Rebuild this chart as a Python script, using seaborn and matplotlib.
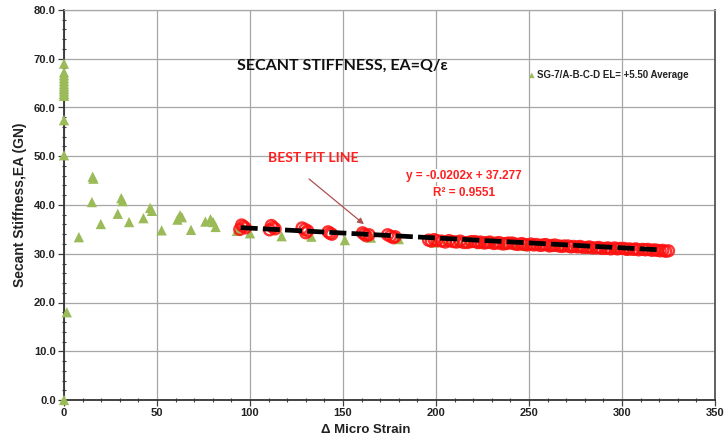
import matplotlib
matplotlib.use("Agg")
import matplotlib.pyplot as plt
import seaborn as sns
import pandas as pd
from matplotlib.ticker import MultipleLocator, FormatStrFormatter

# Average gauge readings (SG-7 A-B-C-D, EL +5.50)
tri_strain = [0, 0, 0, 0, 0, 0, 0, 0, 0, 0, 0, 0, 0, 0, 1.5,
              8, 15, 15.4, 15.8, 19.8, 28.9, 30.8, 31.5, 35, 42.7, 46.3, 47.3,
              52.5, 61, 62.4, 63.4, 68.3, 76, 78.8, 80.2, 81.5, 93,
              100, 117, 133, 151, 165, 180, 199, 206, 212, 218, 224, 230, 236,
              242, 248, 255, 262, 269, 276, 283, 290, 297, 304, 310, 316, 321]
tri_stiff = [69.0, 67.2, 66.6, 66.0, 65.4, 64.8, 64.3, 63.8, 63.3, 62.8, 62.4, 57.4, 50.2, 0.0, 18.0,
             33.4, 40.6, 45.8, 45.4, 36.1, 38.2, 41.4, 40.8, 36.5, 37.3, 39.4, 38.8,
             34.8, 37.0, 37.9, 37.5, 34.9, 36.6, 37.1, 36.5, 35.5, 34.7,
             34.2, 33.6, 33.5, 32.8, 33.3, 33.0, 32.3, 32.5, 32.2, 32.3, 32.0, 32.1, 31.8,
             31.9, 31.6, 31.7, 31.4, 31.5, 31.2, 31.3, 30.9, 31.1, 30.7, 30.9, 30.6, 30.6]

# Readings used for the secant stiffness fit
fit_strain = [94.5, 95.5, 96.5, 97.5, 110.5, 111.5, 112.5, 113.5, 128, 129.5, 130, 131,
              142, 143, 144, 160.5, 161.5, 162.5, 164, 174, 175.5, 177, 178,
              196, 197.5, 199, 200.5, 203, 205, 207, 209, 211, 213, 215, 217, 219,
              221, 222.5, 224, 226, 227.5, 229, 231, 232.5, 234, 236, 237.5, 239,
              241, 242.5, 244, 246, 247.5, 249, 251, 252.5, 254, 256, 257.5, 259,
              261, 262.5, 264, 266, 267.5, 269, 271, 272.5, 274, 276, 277.5, 279,
              281, 282.5, 284, 286, 287.5, 289, 291, 292.5, 294, 296, 297.5, 299,
              301, 302.5, 304, 306, 307.5, 309, 311, 312.5, 314, 316, 317.5, 319,
              320.5, 322, 323.5, 325]
fit_stiff = [35.0, 35.9, 35.6, 35.3, 34.9, 35.8, 35.4, 35.1, 35.3, 35.0, 34.3, 34.7,
             34.5, 34.2, 34.0, 34.3, 34.0, 33.7, 33.9, 33.9, 33.6, 33.3, 33.5,
             32.8, 32.6, 32.9, 32.7, 32.6, 32.4, 32.7, 32.5, 32.4, 32.6, 32.3, 32.3, 32.5,
             32.5, 32.3, 32.4, 32.2, 32.3, 32.4, 32.1, 32.2, 32.3, 32.0, 32.1, 32.2,
             32.2, 32.0, 31.9, 32.1, 31.9, 31.8, 32.0, 31.8, 31.9, 31.7, 31.8, 31.9,
             31.6, 31.7, 31.8, 31.6, 31.5, 31.6, 31.6, 31.4, 31.5, 31.4, 31.5, 31.3,
             31.3, 31.4, 31.2, 31.2, 31.3, 31.1, 31.1, 31.2, 31.0, 31.2, 31.0, 31.1,
             31.1, 30.9, 31.0, 30.9, 31.0, 30.8, 30.9, 30.8, 30.9, 30.7, 30.8, 30.7,
             30.6, 30.7, 30.5, 30.6]

# Linear trend reported on the chart
slope, intercept, r2 = -0.0202, 37.277, 0.9551
fit_range = [95, 320]

x_ticks = [0, 50, 100, 150, 200, 250, 300, 350]
y_ticks = [0, 10, 20, 30, 40, 50, 60, 70, 80]

sns.set_theme(style="white")
plt.rcParams["font.family"] = ["Liberation Sans", "DejaVu Sans"]

fig = plt.figure(figsize=(7.25, 4.4), dpi=100)
ax = fig.add_axes([64 / 725, 40 / 440, 651 / 725, 390 / 440])

tri_df = pd.DataFrame({"strain": tri_strain, "ea": tri_stiff})
fit_df = pd.DataFrame({"strain": fit_strain, "ea": fit_stiff})

green = "#9BBB59"
sns.scatterplot(data=tri_df, x="strain", y="ea", marker="^", s=55, color=green,
                edgecolor="none", ax=ax, zorder=3,
                label="SG-7/A-B-C-D EL= +5.50 Average")
ax.collections[-1].set_clip_on(False)
sns.scatterplot(data=fit_df, x="strain", y="ea", marker="o", s=62,
                facecolor="none", edgecolor="#FF1010", linewidth=1.7, alpha=0.85,
                ax=ax, zorder=4)

line_df = pd.DataFrame({"strain": fit_range,
                        "ea": [slope * v + intercept for v in fit_range]})
sns.lineplot(data=line_df, x="strain", y="ea", color="black", linewidth=3.4,
             ax=ax, zorder=5)
ax.lines[-1].set_dashes((3.6, 1.1))

ax.set_xlim(0, 350)
ax.set_ylim(0, 80)
ax.set_xticks(x_ticks)
ax.set_yticks(y_ticks)
ax.yaxis.set_major_formatter(FormatStrFormatter("%.1f"))
ax.xaxis.set_minor_locator(MultipleLocator(10))
ax.yaxis.set_minor_locator(MultipleLocator(2))
ax.grid(True, which="major", color="#A6A6A6", linewidth=0.9)
ax.set_axisbelow(True)
ax.tick_params(which="major", direction="out", length=4, width=0.9, color="#404040",
               labelsize=8, pad=2, left=True, bottom=True)
ax.tick_params(which="minor", direction="inout", length=3, width=0.8, color="#404040",
               left=True, bottom=True)
for lab in ax.get_xticklabels() + ax.get_yticklabels():
    lab.set_fontweight("bold")
    lab.set_color("#222222")

for side in ["left", "bottom"]:
    ax.spines[side].set_color("#333333")
    ax.spines[side].set_linewidth(1.3)
ax.spines["right"].set_color("#555555")
ax.spines["right"].set_linewidth(1.3)
ax.spines["top"].set_color("#A6A6A6")
ax.spines["top"].set_linewidth(0.9)

ax.set_xlabel("Δ Micro Strain", fontsize=9.5, fontweight="bold", color="#222222")
ax.xaxis.set_label_coords(0.464, -0.062)
ax.set_ylabel("Secant Stiffness,EA (GN)", fontsize=10, fontweight="bold", color="#222222")
ax.yaxis.set_label_coords(-0.057, 0.5)

ax.text(93, 68.6, "SECANT STIFFNESS, EA=Q/ε", fontsize=11.5, fontweight="bold",
        family=["Lato", "DejaVu Sans"], color="#111111", va="center", ha="left")

leg = ax.legend(loc="upper left", bbox_to_anchor=(0.7066, (400 - 66) / 390),
                frameon=False, fontsize=7, markerscale=0.55, handletextpad=0.1,
                borderaxespad=0, handlelength=0.8)
for t in leg.get_texts():
    t.set_fontweight("bold")
    t.set_color("#222222")

ax.text(109.7, 49.6, "BEST FIT LINE", fontsize=10, fontweight="bold",
        family=["Lato", "DejaVu Sans"], color="#FF2020", va="center", ha="left")
ax.annotate("", xy=(162.4, 35.7), xytext=(130.6, 45.7),
            arrowprops=dict(arrowstyle="-|>", color="#B05050", lw=0.9,
                            mutation_scale=9))

ax.text(215, 46.0, f"y = {slope}x + {intercept}", fontsize=8.5, fontweight="bold",
        color="#FF2020", ha="center", va="center", zorder=6,
        bbox=dict(boxstyle="square,pad=0.05", fc="white", ec="none"))
ax.text(215, 42.5, f"R² = {r2}", fontsize=8.5, fontweight="bold",
        color="#FF2020", ha="center", va="center", zorder=6,
        bbox=dict(boxstyle="square,pad=0.05", fc="white", ec="none"))

fig.savefig("out.png", dpi=100)
